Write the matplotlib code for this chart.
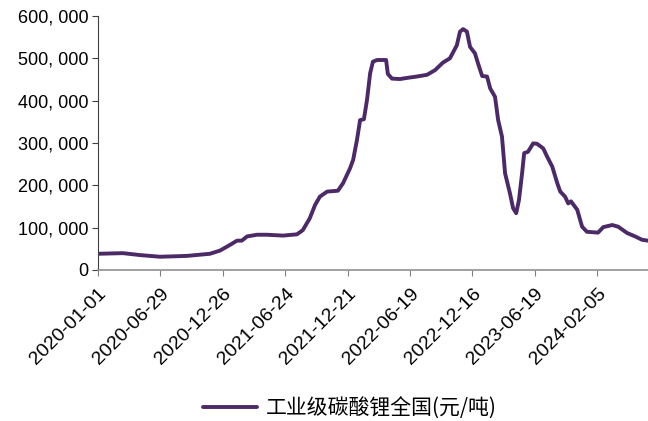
import matplotlib.pyplot as plt
from matplotlib.ticker import FuncFormatter

plt.rcParams['font.family'] = ['Liberation Sans', 'Noto Sans CJK SC', 'DejaVu Sans']

# row number of each observation (category axis, one row per trading day)
obs = [0, 72, 121, 179, 257, 323, 352, 381, 401, 415, 430, 459, 487, 534, 574,
       591, 611, 626, 640, 661, 692, 707, 727, 736, 747, 756, 767, 776, 785,
       793, 805, 831, 836, 848, 871, 894, 920, 949, 972, 995, 1015, 1035, 1044,
       1053, 1064, 1073, 1087, 1096, 1108, 1122, 1131, 1145, 1154, 1165, 1174,
       1188, 1197, 1206, 1214, 1223, 1229, 1240, 1255, 1266, 1284, 1295, 1310,
       1324, 1333, 1347, 1356, 1364, 1382, 1396, 1410, 1442, 1457, 1483, 1500,
       1526, 1549, 1569, 1586]
# 工业级碳酸锂全国 价格 (元/吨)
price = [38000, 39500, 35000, 31000, 33000, 38000, 45500, 59000, 69000, 69000,
         79000, 83000, 83000, 81000, 84000, 94000, 122000, 153000, 173000,
         185000, 187000, 205000, 240000, 260000, 307000, 354000, 356000, 402000,
         465000, 492000, 496000, 496000, 463000, 452000, 451000, 454000, 457000,
         461000, 472000, 490000, 500000, 531000, 563000, 569000, 563000, 527000,
         512000, 488000, 458000, 457000, 429000, 409000, 354000, 315000, 228000,
         181000, 146000, 134000, 165000, 228000, 276000, 279000, 299000, 298000,
         287000, 268000, 244000, 206000, 185000, 173000, 157000, 162000, 142000,
         102000, 90000, 88000, 101000, 106000, 102000, 87000, 79000, 71000, 69000]

tick_rows = [0, 180, 360, 540, 720, 900, 1080, 1260, 1440]
tick_labels = ['2020-01-01', '2020-06-29', '2020-12-26', '2021-06-24', '2021-12-21',
               '2022-06-19', '2022-12-16', '2023-06-19', '2024-02-05']

fig = plt.figure(figsize=(6.48, 4.21), dpi=100)
ax = fig.add_axes([0.151, 0.359, 0.849, 0.603])

ax.plot(obs, price, color='#4B2A66', lw=2.8, label='工业级碳酸锂全国(元/吨)',
        solid_joinstyle='round', solid_capstyle='round')

ax.set_xlim(0, obs[-1])
ax.set_ylim(0, 600000)
ax.set_yticks(range(0, 600001, 100000))
ax.yaxis.set_major_formatter(FuncFormatter(lambda v, p: f'{int(v):,}'.replace(',', ', ')))
ax.set_xticks(tick_rows)
ax.set_xticklabels(tick_labels, rotation=45, ha='right', rotation_mode='anchor',
                   fontsize=14)
ax.tick_params(axis='y', labelsize=13, length=4, color='#404040', pad=3)
ax.tick_params(axis='x', length=4, color='#808080', pad=7)

for s in ['top', 'right']:
    ax.spines[s].set_visible(False)
ax.spines['left'].set_color('#404040')
ax.spines['bottom'].set_color('#909090')
ax.spines['bottom'].set_linewidth(1.2)

fig.legend(loc='center', bbox_to_anchor=(0.54, 0.03), frameon=False,
           prop={'family': ['Noto Sans CJK SC'], 'size': 15}, handlelength=2.6,
           handletextpad=0.4)

fig.savefig('out.png', dpi=100)
